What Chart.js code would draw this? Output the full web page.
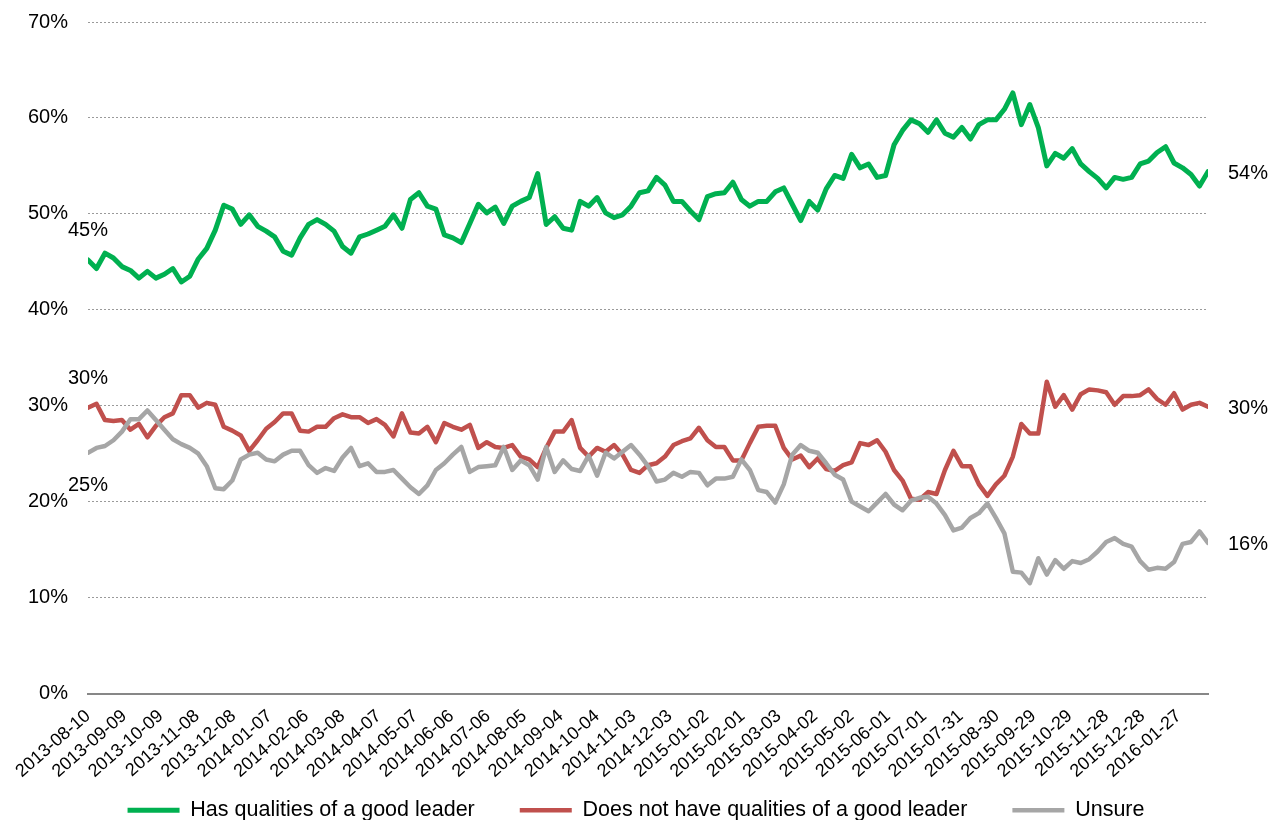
<!DOCTYPE html>
<html>
<head>
<meta charset="utf-8">
<script src="https://cdn.jsdelivr.net/npm/chart.js@4.4.1/dist/chart.umd.min.js"></script>
<style>
  html, body { margin: 0; padding: 0; background: #ffffff; }
  #c { display: block; }
</style>
</head>
<body>
<canvas id="c" width="1272" height="820"></canvas>
<script>
// ---- Data (weekly readings, first reading 2013-08-10) ----
const startDate = '2013-08-10';

const xTickLabels = ['2013-08-10','2013-09-09','2013-10-09','2013-11-08','2013-12-08','2014-01-07','2014-02-06','2014-03-08','2014-04-07','2014-05-07','2014-06-06','2014-07-06','2014-08-05','2014-09-04','2014-10-04','2014-11-03','2014-12-03','2015-01-02','2015-02-01','2015-03-03','2015-04-02','2015-05-02','2015-06-01','2015-07-01','2015-07-31','2015-08-30','2015-09-29','2015-10-29','2015-11-28','2015-12-28','2016-01-27'];

const yTickValues = [0, 10, 20, 30, 40, 50, 60, 70];

const seriesNames = ['Has qualities of a good leader', 'Does not have qualities of a good leader', 'Unsure'];

const goodLeader = [
  45.2,44.3,45.9,45.4,44.5,44.1,43.3,44.0,43.3,43.7,44.3,42.9,43.5,45.3,46.4,48.3,50.9,50.5,48.9,49.9,
  48.7,48.2,47.6,46.1,45.7,47.5,48.9,49.4,48.9,48.2,46.6,45.9,47.6,47.9,48.3,48.7,49.9,48.5,51.5,52.2,
  50.8,50.5,47.8,47.5,47.0,49.0,51.0,50.1,50.7,49.0,50.8,51.3,51.7,54.2,48.9,49.7,48.5,48.3,51.3,50.8,
  51.7,50.1,49.6,49.9,50.8,52.2,52.4,53.8,53.0,51.3,51.3,50.3,49.4,51.8,52.1,52.2,53.3,51.5,50.8,51.3,
  51.3,52.3,52.7,51.0,49.3,51.3,50.4,52.6,54.0,53.7,56.2,54.8,55.2,53.8,54.0,57.2,58.7,59.8,59.4,58.5,
  59.8,58.4,58.0,59.0,57.8,59.3,59.8,59.8,60.9,62.6,59.3,61.4,59.0,55.0,56.3,55.8,56.8,55.2,54.4,53.7,
  52.7,53.8,53.6,53.8,55.2,55.5,56.4,57.0,55.3,54.8,54.1,52.9,54.4
];

const notGoodLeader = [
  29.8,30.2,28.5,28.4,28.5,27.5,28.1,26.7,27.9,28.8,29.2,31.1,31.1,29.8,30.3,30.1,27.8,27.4,26.9,25.3,
  26.4,27.6,28.3,29.2,29.2,27.4,27.3,27.8,27.8,28.7,29.1,28.8,28.8,28.2,28.6,28.0,26.8,29.2,27.2,27.1,
  27.8,26.2,28.2,27.8,27.5,28.0,25.6,26.2,25.7,25.6,25.9,24.7,24.4,23.6,25.6,27.3,27.3,28.5,25.6,24.7,
  25.6,25.2,25.9,24.9,23.3,23.0,23.8,24.0,24.7,25.9,26.3,26.6,27.7,26.4,25.7,25.7,24.3,24.3,26.1,27.8,
  27.9,27.9,25.6,24.4,24.8,23.6,24.5,23.4,23.2,23.8,24.1,26.1,25.9,26.4,25.2,23.3,22.2,20.3,20.2,21.0,
  20.8,23.3,25.3,23.7,23.7,21.8,20.6,21.8,22.7,24.7,28.1,27.1,27.1,32.5,29.9,31.1,29.6,31.2,31.7,31.6,
  31.4,30.1,31.0,31.0,31.1,31.7,30.7,30.1,31.3,29.6,30.1,30.3,29.9
];

const unsure = [
  25.1,25.6,25.8,26.4,27.3,28.6,28.6,29.5,28.5,27.5,26.5,26.0,25.6,25.0,23.7,21.4,21.3,22.2,24.4,24.9,
  25.1,24.4,24.2,24.9,25.3,25.3,23.8,23.0,23.5,23.2,24.6,25.6,23.7,24.0,23.1,23.1,23.3,22.4,21.5,20.8,
  21.7,23.3,24.0,24.9,25.7,23.1,23.6,23.7,23.8,25.7,23.3,24.3,23.8,22.3,25.7,23.1,24.3,23.4,23.2,24.8,
  22.7,25.1,24.5,25.2,25.9,24.9,23.7,22.1,22.3,23.0,22.6,23.1,23.0,21.7,22.4,22.4,22.6,24.4,23.3,21.2,
  21.0,19.9,21.8,24.9,25.9,25.3,25.1,24.0,22.8,22.3,20.0,19.5,19.0,19.9,20.8,19.7,19.1,20.1,20.4,20.5,
  19.8,18.6,17.0,17.3,18.3,18.8,19.8,18.3,16.7,12.7,12.6,11.5,14.1,12.4,13.9,13.0,13.8,13.6,14.0,14.8,
  15.8,16.2,15.6,15.3,13.8,12.9,13.1,13.0,13.7,15.6,15.8,16.9,15.7
];

// ---- Derived from the data: day offsets for weekly readings and for axis labels ----
const DAY = 86400000;
const t0 = Date.parse(startDate);
const pointDays = goodLeader.map((_, i) => i * 7);           // weekly readings
const tickDays = xTickLabels.map(s => Math.round((Date.parse(s) - t0) / DAY));
const toPoints = arr => arr.map((v, i) => ({ x: pointDays[i], y: v }));

const FONT = '"Liberation Sans", Arial, sans-serif';

const endLabels = {
  id: 'endLabels',
  afterDatasetsDraw(chart) {
    const ctx = chart.ctx;
    ctx.save();
    ctx.font = '20px ' + FONT;
    ctx.fillStyle = '#000000';
    ctx.textBaseline = 'middle';
    chart.data.datasets.forEach((ds, di) => {
      const pts = chart.getDatasetMeta(di).data;
      const first = pts[0], last = pts[pts.length - 1];
      const v0 = ds.data[0].y, v1 = ds.data[ds.data.length - 1].y;
      ctx.textAlign = 'center';
      ctx.fillText(Math.round(v0) + '%', first.x, first.y + ds.startLabelDy);
      ctx.textAlign = 'left';
      ctx.fillText(Math.round(v1) + '%', last.x + 20, last.y + 2);
    });
    ctx.restore();
  }
};

new Chart(document.getElementById('c'), {
  type: 'line',
  data: {
    datasets: [
      { label: seriesNames[2], data: toPoints(unsure), borderColor: '#A6A6A6', backgroundColor: '#A6A6A6',
        borderWidth: 4.5, startLabelDy: 33 },
      { label: seriesNames[1], data: toPoints(notGoodLeader), borderColor: '#C0504D', backgroundColor: '#C0504D',
        borderWidth: 4.5, startLabelDy: -29 },
      { label: seriesNames[0], data: toPoints(goodLeader), borderColor: '#00B050', backgroundColor: '#00B050',
        borderWidth: 5, startLabelDy: -29 }
    ]
  },
  options: {
    responsive: false,
    animation: false,
    devicePixelRatio: 1,
    layout: { padding: { top: 22, right: 0, bottom: -11, left: 0 } },
    elements: {
      point: { radius: 0, hoverRadius: 0 },
      line: { tension: 0, borderJoinStyle: 'round', borderCapStyle: 'round', fill: false }
    },
    scales: {
      x: {
        type: 'linear',
        min: 0,
        max: pointDays[pointDays.length - 1],
        afterBuildTicks: s => { s.ticks = tickDays.map(v => ({ value: v })); },
        afterFit: s => {
          s.height = 61;
          // let the rotated date labels run below the axis box, as in the original
          s._computeLabelArea = function () {
            return { top: this.top, left: 0, bottom: this.chart.height, right: this.chart.width };
          };
        },
        ticks: {
          autoSkip: false, minRotation: 41, maxRotation: 41, padding: 12,
          color: '#000000', font: { family: FONT, size: 18 },
          callback: (v, i) => xTickLabels[i]
        },
        grid: { display: false, drawTicks: false },
        border: { display: true, color: '#878787', width: 2 }
      },
      y: {
        min: 0, max: 70,
        afterBuildTicks: s => { s.ticks = yTickValues.map(v => ({ value: v })); },
        afterFit: s => { s.width = 88; s.paddingTop = 0; s.paddingBottom = 0; },
        ticks: {
          padding: 20, color: '#000000', font: { family: FONT, size: 20 },
          callback: v => v + '%'
        },
        grid: {
          drawTicks: false, lineWidth: 1,
          color: c => (c.tick && c.tick.value === 0) ? 'rgba(0,0,0,0)' : '#9a9a9a'
        },
        border: { display: false, dash: [2, 2] }
      },
      yRight: {
        position: 'right',
        display: true,
        afterFit: s => { s.width = 64; s.paddingTop = 0; s.paddingBottom = 0; },
        ticks: { display: false },
        grid: { display: false, drawTicks: false },
        border: { display: false }
      }
    },
    plugins: {
      legend: {
        position: 'bottom',
        reverse: true,
        labels: {
          usePointStyle: true, pointStyle: 'line', pointStyleWidth: 52,
          padding: 45, color: '#000000', font: { family: FONT, size: 21.5 }
        }
      },
      tooltip: { enabled: false }
    }
  },
  plugins: [endLabels]
});
</script>
</body>
</html>
